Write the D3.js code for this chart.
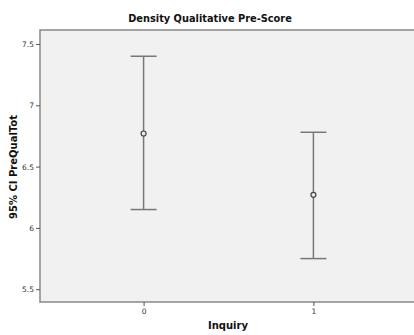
<!DOCTYPE html>
<html><head><meta charset="utf-8">
<script src="https://cdn.jsdelivr.net/npm/d3@7"></script>
<style>body{margin:0;background:#fff}svg{display:block}text{font-family:"DejaVu Sans",sans-serif}</style>
</head><body>
<svg id="c" width="414" height="335"></svg>
<script>
const categories = ["0", "1"];
const means = [6.77, 6.27];
const lower = [6.15, 5.75];
const upper = [7.40, 6.78];
const yTicks = [5.5, 6, 6.5, 7, 7.5];
const tickLabels = ["5.5", "6", "6.5", "7", "7.5"];

const svg = d3.select("#c");
const L = 40, T = 30, R = 417, B = 302;
const x = d3.scalePoint().domain(categories).range([L, R]).padding(0.61);
const y = d3.scaleLinear().domain([5.396, 7.614]).range([B, T]);

svg.append("rect").attr("x", L).attr("y", T).attr("width", R - L).attr("height", B - T)
  .attr("fill", "#f1f1f1").attr("stroke", "#888").attr("stroke-width", 1.5);

const ya = svg.append("g").attr("transform", `translate(${L},0)`)
  .call(d3.axisLeft(y).tickValues(yTicks).tickFormat((d, i) => tickLabels[i]).tickSize(4).tickPadding(2));
ya.select(".domain").remove();
ya.selectAll("line").attr("stroke", "#555");
ya.selectAll("text").attr("font-size", 7.5).attr("fill", "#333");

const xa = svg.append("g").attr("transform", `translate(0,${B})`)
  .call(d3.axisBottom(x).tickSize(4).tickPadding(3));
xa.select(".domain").remove();
xa.selectAll("line").attr("stroke", "#555");
xa.selectAll("text").attr("font-size", 7.5).attr("fill", "#333");

const g = svg.append("g");
categories.forEach((c, i) => {
  const cx = x(c);
  g.append("line").attr("x1", cx).attr("x2", cx).attr("y1", y(upper[i])).attr("y2", y(lower[i]))
    .attr("stroke", "#777").attr("stroke-width", 1.5);
  [upper[i], lower[i]].forEach(v => {
    g.append("line").attr("x1", cx - 13).attr("x2", cx + 13).attr("y1", y(v)).attr("y2", y(v))
      .attr("stroke", "#777").attr("stroke-width", 1.5);
  });
  g.append("circle").attr("cx", cx).attr("cy", y(means[i])).attr("r", 2.5)
    .attr("fill", "#e8e8e8").attr("stroke", "#444").attr("stroke-width", 1.2);
});

svg.append("text").attr("x", 210).attr("y", 22).attr("text-anchor", "middle")
  .attr("font-size", 9.8).attr("font-weight", "bold").attr("fill", "#111").text("Density Qualitative Pre-Score");
svg.append("text").attr("x", 228).attr("y", 329).attr("text-anchor", "middle")
  .attr("font-size", 10).attr("font-weight", "bold").attr("fill", "#111").text("Inquiry");
svg.append("text").attr("transform", "translate(17,167) rotate(-90)").attr("text-anchor", "middle")
  .attr("font-size", 10).attr("font-weight", "bold").attr("fill", "#111").text("95% CI PreQualTot");
</script>
</body></html>
